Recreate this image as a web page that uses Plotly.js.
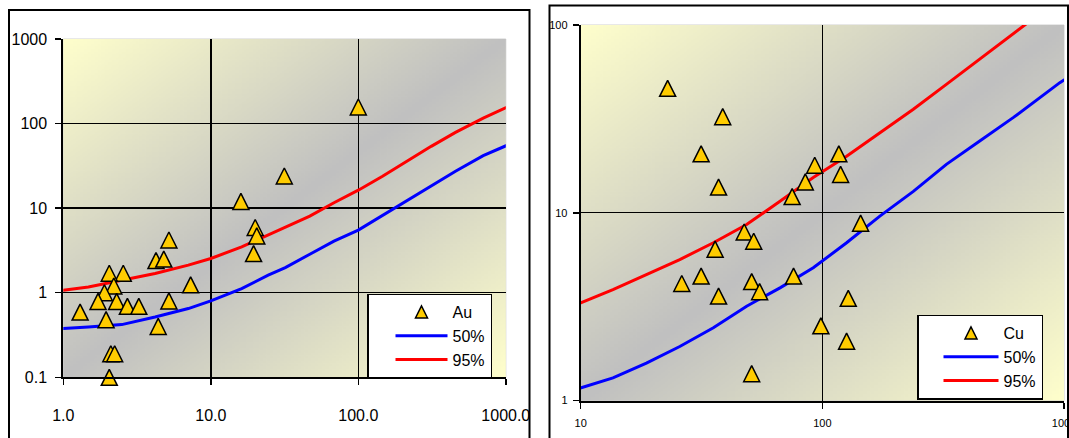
<!DOCTYPE html>
<html>
<head>
<meta charset="utf-8">
<script src="https://cdn.plot.ly/plotly-3.0.1.min.js"></script>
<style>
html,body{margin:0;padding:0;background:#ffffff;}
#chart{width:1069px;height:438px;}
</style>
</head>
<body>
<div id="chart"></div>
<script>
// ---------- Au panel data ----------
const auX = [100, 31.5, 16, 20, 20.5, 19.5, 5.2, 4.25, 4.8, 7.3, 5.2, 4.4, 2.55, 2.05, 2.2, 1.9, 1.72, 2.3, 2.72, 3.25, 1.3, 1.95, 2.1, 2.23, 2.05];
const auY = [157, 24, 12, 5.9, 4.7, 2.9, 4.2, 2.4, 2.5, 1.24, 0.8, 0.4, 1.7, 1.7, 1.2, 1.0, 0.79, 0.79, 0.69, 0.69, 0.59, 0.48, 0.19, 0.19, 0.1];
const auCurveX = [0.88, 1.0, 1.48, 2.49, 4.19, 7.04, 10, 16.2, 24.5, 32, 46.9, 68.4, 100, 146, 213, 312, 456, 703, 1177];
const au50Y = [0.377, 0.377, 0.394, 0.42, 0.517, 0.65, 0.80, 1.12, 1.61, 1.98, 2.85, 4.08, 5.5, 8.2, 12.1, 18.2, 27.3, 41.8, 61.7];
const au95Y = [1.07, 1.07, 1.17, 1.41, 1.69, 2.12, 2.54, 3.48, 4.79, 5.87, 8.05, 11.6, 16.3, 23.8, 35.8, 53.8, 78.7, 116, 175];

// ---------- Cu panel data ----------
const cuX = [22.9, 38.7, 31.5, 37.2, 93, 117, 119, 85, 75, 144, 47.5, 52, 36, 31.5, 26.2, 37.2, 51, 55, 76, 128, 98.6, 126, 51];
const cuY = [46, 32.5, 20.6, 13.7, 17.9, 20.6, 16.0, 14.6, 12.2, 8.8, 7.9, 7.05, 6.4, 4.6, 4.2, 3.6, 4.3, 3.8, 4.6, 3.5, 2.5, 2.07, 1.39];
const cu50X = [9, 10, 13.6, 18.7, 25.7, 35.4, 48.6, 66.8, 91.7, 126, 173, 238, 326, 448, 616, 961, 1050];
const cu50Y = [1.12, 1.17, 1.32, 1.58, 1.94, 2.44, 3.18, 3.98, 5.09, 6.92, 9.6, 13.0, 18.1, 24.1, 32.1, 49.3, 53];
const cu95X = [9, 10, 13.6, 18.7, 25.7, 35.4, 48.6, 66.8, 91.7, 126, 173, 238, 326, 448, 616, 787];
const cu95Y = [3.1, 3.31, 3.9, 4.69, 5.63, 6.92, 8.66, 11.5, 15.4, 20.0, 26.7, 35.6, 48.3, 65.8, 89, 114];

// ---------- names and ticks ----------
const auName = 'Au';
const cuName = 'Cu';
const p50Name = '50%';
const p95Name = '95%';
const auXTickVals = [1, 10, 100, 1000];
const auXTickText = ['1.0', '10.0', '100.0', '1000.0'];
const auYTickVals = [0.1, 1, 10, 100, 1000];
const auYTickText = ['0.1', '1', '10', '100', '1000'];
const cuXTickVals = [10, 100, 1000];
const cuXTickText = ['10', '100', '1000'];
const cuYTickVals = [1, 10, 100];
const cuYTickText = ['1', '10', '100'];

// ---------- styling ----------
const W = 1069, H = 438;
const FONT = 'Arial, "Liberation Sans", sans-serif';
const GOLD = '#FFCC00';

function gradientURI() {
  const c = document.createElement('canvas');
  c.width = 256; c.height = 256;
  const g = c.getContext('2d');
  const gr = g.createLinearGradient(0, 0, 256, 256);
  gr.addColorStop(0, '#FFFFCC');
  gr.addColorStop(0.5, '#C0C0C0');
  gr.addColorStop(1, '#FFFFCC');
  g.fillStyle = gr;
  g.fillRect(0, 0, 256, 256);
  return c.toDataURL('image/png');
}
const bg = gradientURI();

function interior(vals) { return vals.slice(1, -1); }

function dataMarker() {
  return {symbol: 'arrow-down', angle: 180, standoff: 8, size: 16, color: GOLD,
          line: {color: '#000000', width: 1.5}};
}
function legendMarker() {
  return {symbol: 'arrow-up', standoff: 6, size: 12, color: GOLD,
          line: {color: '#000000', width: 1.5}};
}

const traces = [
  // Au panel
  {x: auCurveX, y: au50Y, xaxis: 'x', yaxis: 'y', mode: 'lines', name: p50Name,
   line: {color: '#0000FF', width: 3}, legend: 'legend', legendrank: 2, hoverinfo: 'skip'},
  {x: auCurveX, y: au95Y, xaxis: 'x', yaxis: 'y', mode: 'lines', name: p95Name,
   line: {color: '#FF0000', width: 3}, legend: 'legend', legendrank: 3, hoverinfo: 'skip'},
  {x: auX, y: auY, xaxis: 'x', yaxis: 'y', mode: 'markers', name: auName,
   marker: dataMarker(), cliponaxis: false, showlegend: false, legend: 'legend'},
  {x: [null], y: [null], xaxis: 'x', yaxis: 'y', mode: 'markers', name: auName,
   marker: legendMarker(), legend: 'legend', legendrank: 1, hoverinfo: 'skip'},
  // Cu panel
  {x: cu50X, y: cu50Y, xaxis: 'x2', yaxis: 'y2', mode: 'lines', name: p50Name,
   line: {color: '#0000FF', width: 3}, legend: 'legend2', legendrank: 2, hoverinfo: 'skip'},
  {x: cu95X, y: cu95Y, xaxis: 'x2', yaxis: 'y2', mode: 'lines', name: p95Name,
   line: {color: '#FF0000', width: 3}, legend: 'legend2', legendrank: 3, hoverinfo: 'skip'},
  {x: cuX, y: cuY, xaxis: 'x2', yaxis: 'y2', mode: 'markers', name: cuName,
   marker: dataMarker(), cliponaxis: false, showlegend: false, legend: 'legend2'},
  {x: [null], y: [null], xaxis: 'x2', yaxis: 'y2', mode: 'markers', name: cuName,
   marker: legendMarker(), legend: 'legend2', legendrank: 1, hoverinfo: 'skip'}
];

function axis(opts) {
  return Object.assign({
    type: 'log', tickmode: 'array', ticks: 'outside', ticklen: 6, tickwidth: 1.5,
    tickcolor: '#000000', showline: true, linecolor: '#000000', linewidth: 2,
    showgrid: false, zeroline: false, fixedrange: true, ticklabeloverflow: 'allow',
    tickfont: {family: FONT, size: 16, color: '#000000'}
  }, opts);
}

const layout = {
  width: W, height: H,
  margin: {l: 0, r: 0, t: 0, b: 0, pad: 0},
  paper_bgcolor: '#FFFFFF',
  plot_bgcolor: 'rgba(0,0,0,0)',
  showlegend: true,
  font: {family: FONT, color: '#000000'},
  xaxis: axis({domain: [63.3 / W, 505.8 / W], range: [0, 3], anchor: 'y',
    tickvals: auXTickVals, ticktext: auXTickText, ticklabelstandoff: 16,
    minor: {tickmode: 'array', tickvals: interior(auXTickVals), showgrid: true,
            gridcolor: '#000000', gridwidth: 1.5, ticks: ''}}),
  yaxis: axis({domain: [1 - 377.3 / H, 1 - 39 / H], range: [-1, 3], anchor: 'x',
    tickvals: auYTickVals, ticktext: auYTickText, ticklabelstandoff: 5,
    minor: {tickmode: 'array', tickvals: interior(auYTickVals), showgrid: true,
            gridcolor: '#000000', gridwidth: 1.5, ticks: ''}}),
  xaxis2: axis({domain: [580.7 / W, 1064 / W], range: [1, 3], anchor: 'y2',
    tickvals: cuXTickVals, ticktext: cuXTickText, ticklabelstandoff: 5,
    tickfont: {family: FONT, size: 11, color: '#000000'},
    minor: {tickmode: 'array', tickvals: interior(cuXTickVals), showgrid: true,
            gridcolor: '#000000', gridwidth: 1.2, ticks: ''}}),
  yaxis2: axis({domain: [1 - 400.5 / H, 1 - 25 / H], range: [0, 2], anchor: 'x2',
    tickvals: cuYTickVals, ticktext: cuYTickText, ticklabelstandoff: 3,
    tickfont: {family: FONT, size: 11, color: '#000000'},
    minor: {tickmode: 'array', tickvals: interior(cuYTickVals), showgrid: true,
            gridcolor: '#000000', gridwidth: 1.2, ticks: ''}}),
  legend: {x: 367 / W, y: 1 - 293.5 / H, xanchor: 'left', yanchor: 'top',
    bgcolor: '#FFFFFF', bordercolor: '#000000', borderwidth: 1.5,
    font: {family: FONT, size: 16, color: '#000000'},
    itemwidth: 52, indentation: 22, tracegroupgap: 0, entrywidth: 50},
  legend2: {x: 917 / W, y: 1 - 314.5 / H, xanchor: 'left', yanchor: 'top',
    bgcolor: '#FFFFFF', bordercolor: '#000000', borderwidth: 1.5,
    font: {family: FONT, size: 16, color: '#000000'},
    itemwidth: 55, indentation: 20, tracegroupgap: 0, entrywidth: 50},
  images: [
    {source: bg, xref: 'x domain', yref: 'y domain', x: 0, y: 1, sizex: 1, sizey: 1,
     xanchor: 'left', yanchor: 'top', sizing: 'stretch', layer: 'below'},
    {source: bg, xref: 'x2 domain', yref: 'y2 domain', x: 0, y: 1, sizex: 1, sizey: 1,
     xanchor: 'left', yanchor: 'top', sizing: 'stretch', layer: 'below'}
  ],
  shapes: [
    {type: 'rect', xref: 'x domain', yref: 'y domain', x0: 0, x1: 1, y0: 0, y1: 1,
     line: {color: '#D0D0D0', width: 1}, fillcolor: 'rgba(0,0,0,0)', layer: 'below'},
    {type: 'rect', xref: 'x2 domain', yref: 'y2 domain', x0: 0, x1: 1, y0: 0, y1: 1,
     line: {color: '#D0D0D0', width: 1}, fillcolor: 'rgba(0,0,0,0)', layer: 'below'},
    {type: 'rect', xref: 'paper', yref: 'paper', x0: 9 / W, x1: 529.5 / W, y0: -0.1, y1: 1 - 10 / H,
     line: {color: '#000000', width: 2}, fillcolor: 'rgba(0,0,0,0)', layer: 'above'},
    {type: 'rect', xref: 'paper', yref: 'paper', x0: 549.5 / W, x1: 1068 / W, y0: -0.1, y1: 1 - 5.5 / H,
     line: {color: '#000000', width: 2}, fillcolor: 'rgba(0,0,0,0)', layer: 'above'}
  ]
};

Plotly.newPlot('chart', traces, layout, {displayModeBar: false, staticPlot: true});
</script>
</body>
</html>
